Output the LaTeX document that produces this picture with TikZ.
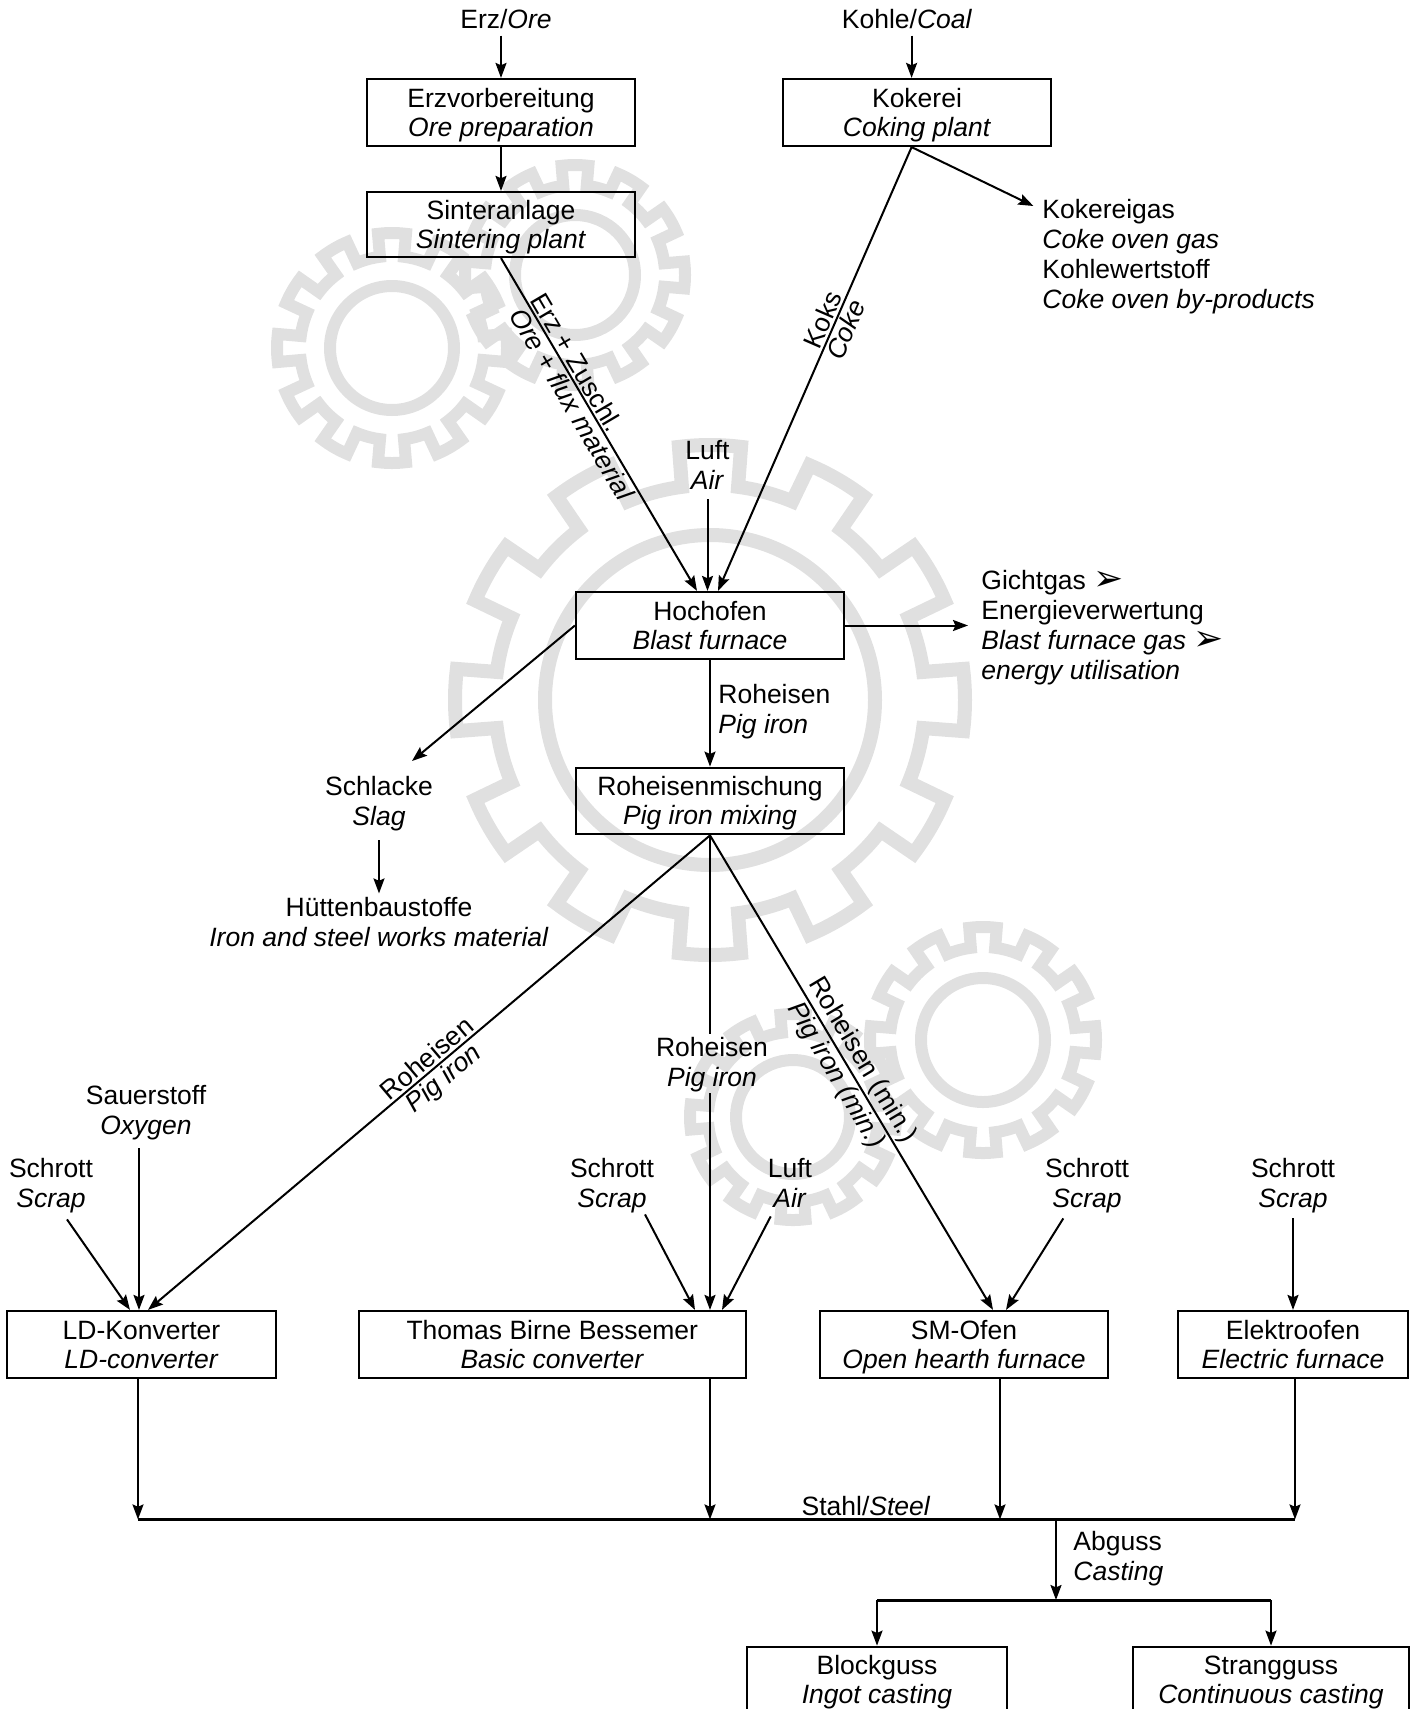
\documentclass[tikz,border=0pt]{standalone}
\usepackage{fontspec}
\setmainfont{Liberation Sans}
\newfontfamily\djv{DejaVu Sans}
\usetikzlibrary{arrows.meta,calc}
\newcommand{\ls}{\rule[-3.1pt]{0pt}{11.3pt}}
\newcommand{\lsf}{\rule[-3.1pt]{0pt}{14.3pt}}
\newcommand{\lsb}{\rule[-3.1pt]{0pt}{15.3pt}}
\newcommand{\bi}[2]{#1\lsf\\\textit{#2}\ls}
\newcommand{\bx}[2]{#1\lsb\\\textit{#2}\ls}
\newcommand{\tri}{\raisebox{-0.5pt}{\djv\fontsize{18}{18}\selectfont ➢}}
\newcommand{\gearwm}[7]{% cx, cy, inner r, root r, tip r, teeth, width
  \draw[wm, line width=#7] (#1,#2) circle[radius=#3];
  \draw[wm, line width=#7, shift={(#1,#2)}] plot[domain=0:360, samples=721, variable=\t]
    (\t:{cos(#6*\t) > 0.05 ? #5 : #4}) -- cycle;
}
\begin{document}
\begin{tikzpicture}[x=0.5pt,y=-0.5pt,
  every node/.style={font=\fontsize{13.25pt}{15pt}\selectfont, inner sep=0pt},
  box/.style={draw, line width=1.1pt, align=center, minimum height=33.5pt,
    font=\fontsize{13.25pt}{14.4pt}\selectfont},
  txt/.style={align=center},
  ltxt/.style={align=left},
  arr/.style={line width=1pt, -{Stealth[length=7.5pt,width=5.5pt,inset=1.2pt]}},
  conn/.style={line width=1pt},
  bar/.style={line width=1.5pt},
  wm/.style={draw=black!12}
]
\useasboundingbox (0,0) rectangle (1415,1709);

% watermark gears
\gearwm{710}{700}{165}{215}{255}{12}{7pt}
\gearwm{392}{348}{62}{92}{115}{12}{6pt}
\gearwm{575}{275}{60}{90}{110}{12}{6pt}
\gearwm{983}{1040}{62}{93}{113}{12}{6pt}
\gearwm{793}{1117}{57}{85}{103}{12}{6pt}

% top
\node[anchor=base] (tErz) at (506,28) {Erz/\textit{Ore}};
\node[box, minimum width=134pt] (erz) at (501,112.5) {\bx{Erzvorbereitung}{Ore preparation}};
\node[box, minimum width=134pt, minimum height=32.5pt] (sint) at (501,224.5) {\bx{Sinteranlage}{Sintering plant}};
\node[anchor=base] (tKoh) at (907,28) {Kohle/\textit{Coal}};
\node[box, minimum width=134pt] (kok) at (917,112.5) {\bx{Kokerei}{Coking plant}};
\node[ltxt, anchor=north west] (kgas) at (1042,196) {Kokereigas\lsf\\\textit{Coke oven gas}\ls\\Kohlewertstoff\ls\\\textit{Coke oven by-products}\ls};
\node[txt, anchor=north] (luft1) at (707.5,437) {\bi{Luft}{Air}};

% blast furnace
\node[box, minimum width=134pt] (hoch) at (710,625.5) {\bx{Hochofen}{Blast furnace}};
\node[ltxt, anchor=north west] (ggas) at (981,567) {Gichtgas \tri\lsf\\Energieverwertung\ls\\\textit{Blast furnace gas} \tri\ls\\\textit{energy utilisation}\ls};
\node[txt, anchor=north] (schl) at (379,773) {\bi{Schlacke}{Slag}};
\node[txt, anchor=north] (huett) at (379,893.4) {\bi{Hüttenbaustoffe}{Iron and steel works material}};
\node[ltxt, anchor=north west] (lroh1) at (718,681) {\bi{Roheisen}{Pig iron}};
\node[box, minimum width=134pt, minimum height=33.3pt] (rmix) at (710,801) {\bx{Roheisenmischung}{Pig iron mixing}};

% inputs of the steel furnaces
\node[txt, anchor=north] (lroh2) at (712,1034) {\bi{Roheisen}{Pig iron}};
\node[txt, anchor=north] (sauer) at (146,1082) {\bi{Sauerstoff}{Oxygen}};
\node[txt, anchor=north] (s1) at (51,1155) {\bi{Schrott}{Scrap}};
\node[txt, anchor=north] (s2) at (612,1155) {\bi{Schrott}{Scrap}};
\node[txt, anchor=north] (luft2) at (790,1155) {\bi{Luft}{Air}};
\node[txt, anchor=north] (s3) at (1087,1155) {\bi{Schrott}{Scrap}};
\node[txt, anchor=north] (s4) at (1293,1155) {\bi{Schrott}{Scrap}};

% steel furnaces
\node[box, minimum width=134.5pt] (ld) at (141.5,1344.5) {\bx{LD-Konverter}{LD-converter}};
\node[box, minimum width=193.3pt] (thom) at (552.3,1344.5) {\bx{Thomas Birne Bessemer}{Basic converter}};
\node[box, minimum width=144pt] (sm) at (964,1344.5) {\bx{SM-Ofen}{Open hearth furnace}};
\node[box, minimum width=115pt] (elek) at (1293,1344.5) {\bx{Elektroofen}{Electric furnace}};

% steel and casting
\coordinate (barL) at (138,1519.4);
\coordinate (barR) at (1295,1519.4);
\coordinate (abg) at (1056,1519.4);
\coordinate (bar2) at (1056,1600);
\node[anchor=base] (stahl) at (866,1515) {Stahl/\textit{Steel}};
\node[ltxt, anchor=north west] (tabg) at (1073,1527.4) {\bi{Abguss}{Casting}};
\node[box, minimum width=130pt] (blk) at (877,1680.2) {\bx{Blockguss}{Ingot casting}};
\node[box, minimum width=138pt] (str) at (1271,1680.2) {\bx{Strangguss}{Continuous casting}};

% connectors top
\draw[arr, shorten <=3.5pt] (erz.north |- tErz.south) -- (erz.north);
\draw[arr, shorten <=3.5pt] ([xshift=-2.7pt]kok.north |- tKoh.south) -- ([xshift=-2.7pt]kok.north);
\draw[arr] (erz.south) -- (sint.north);
\draw[arr] ([xshift=-2.7pt]kok.south) -- ([shift={(-4.3pt,-5pt)}]kgas.north west);
\draw[arr] (sint.south) -- ([xshift=-6.5pt]hoch.north)
  node[pos=0.333, sloped, above, inner sep=1pt] {Erz + Zuschl.}
  node[pos=0.42, sloped, below, inner sep=1pt] {\textit{Ore + flux material}};
\draw[arr] ([xshift=-2.7pt]kok.south) -- ([xshift=4pt]hoch.north)
  node[pos=0.4, sloped, above, inner sep=1pt] {Koks}
  node[pos=0.4, sloped, below, inner sep=1pt] {\textit{Coke}};
\draw[arr, shorten <=1.5pt] (luft1.south) -- (luft1.south |- hoch.north);

% connectors blast furnace
\draw[arr] (hoch.east) -- ([xshift=-6.5pt]hoch.east -| ggas.west);
\draw[arr] (hoch.west) -- ([shift={(16.5pt,6pt)}]schl.north);
\draw[arr, shorten <=4pt] (schl.south) -- (huett.north);
\draw[arr] (hoch.south) -- (rmix.north);

% connectors pig iron
\draw[arr] (rmix.south) -- ([xshift=3.25pt]ld.north)
  node[pos=0.49, sloped, above, inner sep=1pt] {Roheisen}
  node[pos=0.49, sloped, below, inner sep=1pt] {\textit{Pig iron}};
\draw[conn] (rmix.south) -- (rmix.south |- lroh2.north);
\draw[arr] (rmix.south |- lroh2.south) -- (rmix.south |- thom.north);
\draw[arr] (rmix.south) -- ([xshift=14.5pt]sm.north)
  node[pos=0.49, sloped, above, inner sep=1pt] {Roheisen (min.)}
  node[pos=0.49, sloped, below, inner sep=1pt] {\textit{Pig iron (min.)}};

% other inputs
\draw[arr] ([shift={(-3.5pt,-3.5pt)}]sauer.south) -- ([xshift=-1.25pt]ld.north);
\draw[arr] ([shift={(8pt,-2.5pt)}]s1.south) -- ([xshift=-5.75pt]ld.north);
\draw[arr] ([shift={(16.5pt,0pt)}]s2.south) -- ([xshift=71.35pt]thom.north);
\draw[arr] ([shift={(-9.65pt,-1pt)}]luft2.south) -- ([xshift=84.85pt]thom.north);
\draw[arr] ([shift={(-11.85pt,-2pt)}]s3.south) -- ([xshift=21pt]sm.north);
\draw[arr, shorten <=2pt] (s4.south) -- (elek.north);

% to steel bar
\draw[arr] ([xshift=-1.75pt]ld.south) -- ([xshift=-1.75pt]ld.south |- barL);
\draw[arr] (rmix.south |- thom.south) -- (rmix.south |- barL);
\draw[arr] ([xshift=18pt]sm.south) -- ([xshift=18pt]sm.south |- barL);
\draw[arr] ([xshift=1pt]elek.south) -- ([xshift=1pt]elek.south |- barL);
\draw[bar] (barL) -- (barR);

% casting
\draw[arr] (abg) -- (bar2);
\draw[bar] (blk.north |- bar2) -- (str.north |- bar2);
\draw[arr] (blk.north |- bar2) -- (blk.north);
\draw[arr] (str.north |- bar2) -- (str.north);
\end{tikzpicture}
\end{document}
